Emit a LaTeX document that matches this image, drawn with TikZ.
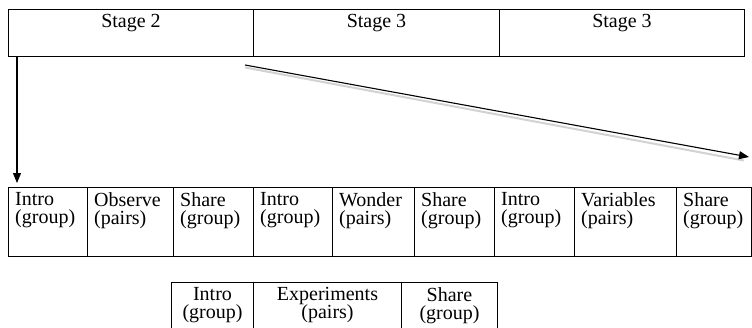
\documentclass[tikz,border=0pt]{standalone}
\usepackage{fontspec}
\setmainfont{Liberation Serif}
\usetikzlibrary{arrows.meta,calc}
\begin{document}
\begin{tikzpicture}[x=1pt,y=-1pt,
  cellbox/.style={draw,line width=1pt,minimum height=#1,inner sep=0pt,anchor=north west},
  cellbox/.default=47,
  txt/.style={inner sep=0pt,font=\fontsize{20}{18.5}\selectfont},
  conn/.style={line width=1.1pt,-{Triangle[length=10pt,width=8pt]}},
  shadowline/.style={line width=2pt,gray!35}]
\clip (0,0) rectangle (752,327);
\useasboundingbox (0,0) rectangle (752,327);
% top table
\node[cellbox=47,minimum width=245] (s2) at (8,9) {};
\node[cellbox=47,minimum width=246] (s3a) at (253,9) {};
\node[cellbox=47,minimum width=245] (s3b) at (499,9) {};
\node[txt,anchor=north] at ($(s2.north)+(0,5)$) {Stage 2};
\node[txt,anchor=north] at ($(s3a.north)+(0,5)$) {Stage 3};
\node[txt,anchor=north] at ($(s3b.north)+(0,5)$) {Stage 3};
% middle table
\foreach \n/\a/\b/\t in {m1/8/87/{Intro\\(group)},m2/87/173/{Observe\\(pairs)},m3/173/253/{Share\\(group)},
  m4/253/332/{Intro\\(group)},m5/332/414/{Wonder\\(pairs)},m6/414/494/{Share\\(group)},
  m7/494/574/{Intro\\(group)},m8/574/676/{Variables\\(pairs)},m9/676/751/{Share\\(group)}}{
  \pgfmathsetmacro{\w}{\b-\a}
  \node[cellbox=69,minimum width=\w] (\n) at (\a,187) {};
  \node[txt,align=left,anchor=north west] at ($(\n.north west)+(7,5)$) {\t};
}
% bottom table
\foreach \n/\a/\b/\t in {b1/171/253/{Intro\\(group)},b2/253/401/{Experiments\\(pairs)},b3/401/497/{Share\\(group)}}{
  \pgfmathsetmacro{\w}{\b-\a}
  \node[cellbox=70,minimum width=\w] (\n) at (\a,282) {};
  \node[txt,align=center,anchor=north] at ($(\n.north)+(0,5)$) {\t};
}
% connectors
\coordinate (vstart) at ($(s2.south west)+(9,0)$);
\coordinate (vend) at ($(m1.north west)+(9,-4)$);
\draw[conn] (vstart) -- (vend);
\coordinate (dstart) at (245,65);
\coordinate (dend) at (749,157);
\draw[shadowline] ($(dstart)+(0,2.5)$) -- ($(dend)+(-5,3.5)$);
\draw[conn] (dstart) -- (dend);
\end{tikzpicture}
\end{document}
